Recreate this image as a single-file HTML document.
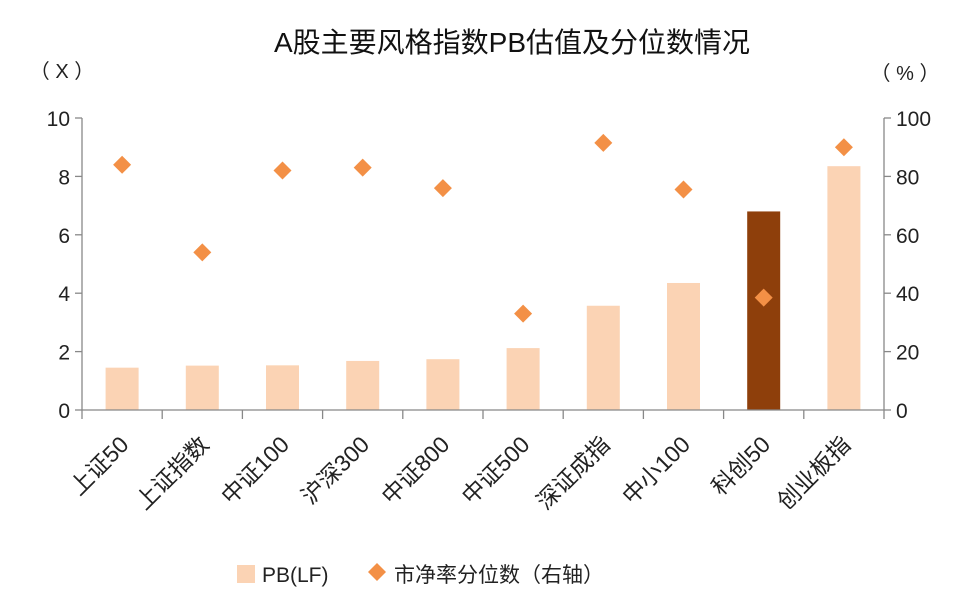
<!DOCTYPE html>
<html><head><meta charset="utf-8"><style>
html,body{margin:0;padding:0;background:#fff;}
svg{display:block;font-family:"Liberation Sans","Noto Sans CJK SC",sans-serif;}
</style></head><body>
<svg id="chart" width="960" height="616" viewBox="0 0 960 616">
<text x="512" y="52" font-size="28" text-anchor="middle" fill="#111">A股主要风格指数PB估值及分位数情况</text>
<text x="62" y="78" font-size="20" text-anchor="middle" fill="#222">（ X ）</text>
<text x="905" y="80" font-size="20" text-anchor="middle" fill="#222">（ % ）</text>
<g id="plot"></g>
<g>
<rect x="237" y="565" width="18" height="18" fill="#FBD3B4"/>
<text x="262" y="582" font-size="21" fill="#222">PB(LF)</text>
<path d="M377 563 L386 572 L377 581 L368 572 Z" fill="#F39046"/>
<text x="394" y="582" font-size="21" fill="#222">市净率分位数（右轴）</text>
</g>
</svg>
<script>
const categories=["上证50","上证指数","中证100","沪深300","中证800","中证500","深证成指","中小100","科创50","创业板指"];
const pbValues=[1.45,1.52,1.53,1.68,1.74,2.12,3.57,4.35,6.8,8.35];
const percentileValues=[84,54,82,83,76,33,91.5,75.5,38.5,90];
const leftTicks=[0,2,4,6,8,10];
const rightTicks=[0,20,40,60,80,100];
const highlightIndex=8;

const NS="http://www.w3.org/2000/svg";
const g=document.getElementById("plot");
const L=82,R=884,T=118,B=410;
const yL=v=>B-(v/10)*(B-T);
const yR=v=>B-(v/100)*(B-T);
const band=(R-L)/categories.length;
const xC=i=>L+band*(i+0.5);
function mk(tag,attrs){const e=document.createElementNS(NS,tag);for(const k in attrs)e.setAttribute(k,attrs[k]);g.appendChild(e);return e;}

let e=mk("line",{x1:L,y1:T,x2:L,y2:B,stroke:"#888","stroke-width":1.3});


e=mk("line",{x1:R,y1:T,x2:R,y2:B,stroke:"#888","stroke-width":1.3});


leftTicks.forEach(v=>{
  const t=mk("line",{x1:L-7,x2:L,y1:yL(v),y2:yL(v),stroke:"#888","stroke-width":1.3});
  
  
  const tx=mk("text",{x:L-12,y:yL(v)+8,"font-size":21,"text-anchor":"end",fill:"#222"});
  tx.textContent=v;
  
  
});
rightTicks.forEach(v=>{
  const t=mk("line",{x1:R,x2:R+7,y1:yR(v),y2:yR(v),stroke:"#888","stroke-width":1.3});
  
  
  const tx=mk("text",{x:R+12,y:yR(v)+8,"font-size":21,"text-anchor":"start",fill:"#222"});
  tx.textContent=v;
  
  
});
pbValues.forEach((v,i)=>{
  const b=mk("rect",{x:xC(i)-16.5,y:yL(v),width:33,height:B-yL(v),fill:i===highlightIndex?"#8E3F0B":"#FBD3B4"});
  
  
});
e=mk("line",{x1:L,y1:B,x2:R,y2:B,stroke:"#888","stroke-width":1.3});


for(let i=0;i<=categories.length;i++){
  const t=mk("line",{x1:L+band*i,x2:L+band*i,y1:B,y2:B+9,stroke:"#888","stroke-width":1.3});
  
  
}
categories.forEach((c,i)=>{
  const x=xC(i)+8,y=B+36;
  const tx=mk("text",{x:x,y:y,"font-size":23,"text-anchor":"end",fill:"#222",transform:`rotate(-45 ${x} ${y})`});
  tx.textContent=c;
  
  
});
percentileValues.forEach((v,i)=>{
  const x=xC(i),y=yR(v),s=9;
  const d=mk("path",{d:`M${x} ${y-s} L${x+s} ${y} L${x} ${y+s} L${x-s} ${y} Z`,fill:"#F39046"});
  
  
});
</script>
</body></html>
